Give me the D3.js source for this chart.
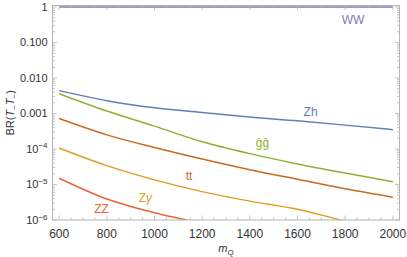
<!DOCTYPE html>
<html>
<head>
<meta charset="utf-8">
<script src="https://cdn.jsdelivr.net/npm/d3@7"></script>
<style>
  body { margin: 0; background: #fff; }
  svg { display: block; font-family: "Liberation Sans", Arial, sans-serif; }
  .tick-label { fill: #333; }
  .curve-label { font-size: 12px; }
</style>
</head>
<body>
<div id="chart"></div>
<script>
const masses = [600, 800, 1000, 1200, 1400, 1600, 1800, 2000];

// Branching ratios, one array per channel
const brWW = [0.995, 0.995, 0.995, 0.995, 0.995, 0.995, 0.995, 0.995];
const brZh = [4.4e-3, 2.3e-3, 1.45e-3, 1.07e-3, 7.9e-4, 6.2e-4, 4.7e-4, 3.5e-4];
const brGG = [3.6e-3, 1.17e-3, 4.4e-4, 1.6e-4, 7.4e-5, 3.8e-5, 2.1e-5, 1.2e-5];
const brTT = [7.2e-4, 2.5e-4, 1.1e-4, 5.2e-5, 2.6e-5, 1.4e-5, 7.6e-6, 4.4e-6];
const brZgamma = [1.07e-4, 3.4e-5, 1.35e-5, 6.3e-6, 3.4e-6, 2.0e-6, 9.5e-7, 5.5e-7];
const brZZ = [1.5e-5, 3.9e-6, 1.6e-6, 8.0e-7, 4.0e-7, 2.2e-7, 1.3e-7, 8.0e-8];

const seriesNames = ["WW", "Zh", "\u011D\u011D", "tt", "Z\u03B3", "ZZ"];
const seriesData = [brWW, brZh, brGG, brTT, brZgamma, brZZ];
const seriesColors = ["#8778B3", "#5E81B5", "#8FB032", "#C9691E", "#E19C24", "#EB6235"];

// Where each label sits, in data coordinates
const labelMass = [1833, 1655, 1453, 1145, 962, 778];
const labelBR = [0.44, 1.1e-3, 1.48e-4, 1.74e-5, 4.3e-6, 2.1e-6];

// Tick labels
const xTicks = [600, 800, 1000, 1200, 1400, 1600, 1800, 2000];
const yTicks = [1, 0.1, 0.01, 0.001, 1e-4, 1e-5, 1e-6];
const yTickText = ["1", "0.100", "0.010", "0.001", ["10", "\u22124"], ["10", "\u22125"], ["10", "\u22126"]];

const width = 407, height = 257;
const margin = { top: 5.5, right: 7.5, bottom: 37, left: 52.5 };
const innerW = width - margin.left - margin.right;
const innerH = height - margin.top - margin.bottom;

const svg = d3.select("#chart").append("svg")
  .attr("width", width)
  .attr("height", height);

const x = d3.scaleLinear().domain([572, 2028]).range([margin.left, margin.left + innerW]);
const y = d3.scaleLog().domain([1e-6, 1.1]).range([margin.top + innerH, margin.top]);

svg.append("clipPath").attr("id", "plot-clip")
  .append("rect")
  .attr("x", margin.left).attr("y", margin.top)
  .attr("width", innerW).attr("height", innerH);

// Curves
const line = d3.line()
  .x((d, i) => x(masses[i]))
  .y(d => y(d))
  .curve(d3.curveMonotoneX);

const curves = svg.append("g").attr("clip-path", "url(#plot-clip)");
seriesData.forEach((vals, k) => {
  curves.append("path")
    .attr("d", line(vals))
    .attr("fill", "none")
    .attr("stroke", seriesColors[k])
    .attr("stroke-width", 1.5);
});

// Frame
const frameColor = "#b5b5b5";
svg.append("rect")
  .attr("x", margin.left).attr("y", margin.top)
  .attr("width", innerW).attr("height", innerH)
  .attr("fill", "none")
  .attr("stroke", frameColor)
  .attr("stroke-width", 1);

const ticks = svg.append("g").attr("stroke", frameColor).attr("stroke-width", 0.8);
const bottomY = margin.top + innerH, topY = margin.top;
const leftX = margin.left, rightX = margin.left + innerW;

// x ticks: major every 200, minor every 50
d3.range(600, 2001, 50).forEach(m => {
  const len = m % 200 === 0 ? 4.5 : 2.5;
  ticks.append("line").attr("x1", x(m)).attr("x2", x(m)).attr("y1", bottomY).attr("y2", bottomY - len);
  ticks.append("line").attr("x1", x(m)).attr("x2", x(m)).attr("y1", topY).attr("y2", topY + len);
});

// y ticks: major at each decade, minor at 2..9
d3.range(-6, 1).forEach(e => {
  for (let j = 1; j <= 9; j++) {
    const v = j * Math.pow(10, e);
    if (v > 1.1) continue;
    const len = j === 1 ? 4.5 : 2.5;
    ticks.append("line").attr("x1", leftX).attr("x2", leftX + len).attr("y1", y(v)).attr("y2", y(v));
    ticks.append("line").attr("x1", rightX).attr("x2", rightX - len).attr("y1", y(v)).attr("y2", y(v));
  }
});

// x tick labels
svg.append("g").selectAll("text")
  .data(xTicks)
  .join("text")
  .attr("class", "tick-label")
  .style("font-size", "12px")
  .attr("x", d => x(d))
  .attr("y", bottomY + 18)
  .attr("text-anchor", "middle")
  .text(d => d);

// y tick labels
yTicks.forEach((v, i) => {
  const t = svg.append("text")
    .attr("class", "tick-label")
    .style("font-size", "11px")
    .attr("x", leftX - 5)
    .attr("y", y(v) + 4)
    .attr("text-anchor", "end");
  const lab = yTickText[i];
  if (Array.isArray(lab)) {
    t.append("tspan").text(lab[0]);
    t.append("tspan").attr("dy", -4.5).style("font-size", "8px").text(lab[1]);
  } else {
    t.text(lab);
  }
});

// Axis titles
const xt = svg.append("text")
  .attr("x", margin.left + innerW / 2)
  .attr("y", height - 5)
  .attr("text-anchor", "middle")
  .style("font-size", "11px")
  .attr("fill", "#333");
xt.append("tspan").style("font-style", "italic").text("m");
xt.append("tspan").attr("dy", 3).style("font-size", "8px").text("Q");

const yt = svg.append("text")
  .attr("transform", `translate(14,${margin.top + innerH / 2}) rotate(-90)`)
  .attr("text-anchor", "middle")
  .style("font-size", "11px")
  .attr("fill", "#333");
yt.append("tspan").text("BR(");
yt.append("tspan").style("font-style", "italic").text("T");
yt.append("tspan").attr("dy", 3).style("font-size", "8px").text("\u2212");
yt.append("tspan").attr("dy", -3).style("font-style", "italic").text("T");
yt.append("tspan").attr("dy", 3).style("font-size", "8px").text("\u2212");
yt.append("tspan").attr("dy", -3).text(")");

// Curve labels
seriesNames.forEach((name, k) => {
  const t = svg.append("text")
    .attr("class", "curve-label")
    .attr("x", x(labelMass[k]))
    .attr("y", y(labelBR[k]))
    .attr("dy", "0.35em")
    .attr("text-anchor", "middle")
    .attr("fill", seriesColors[k]);
  if (name === "Z\u03B3") {
    t.append("tspan").text("Z");
    t.append("tspan").style("font-style", "italic").text("\u03B3");
  } else {
    t.text(name);
  }
});
</script>
</body>
</html>
